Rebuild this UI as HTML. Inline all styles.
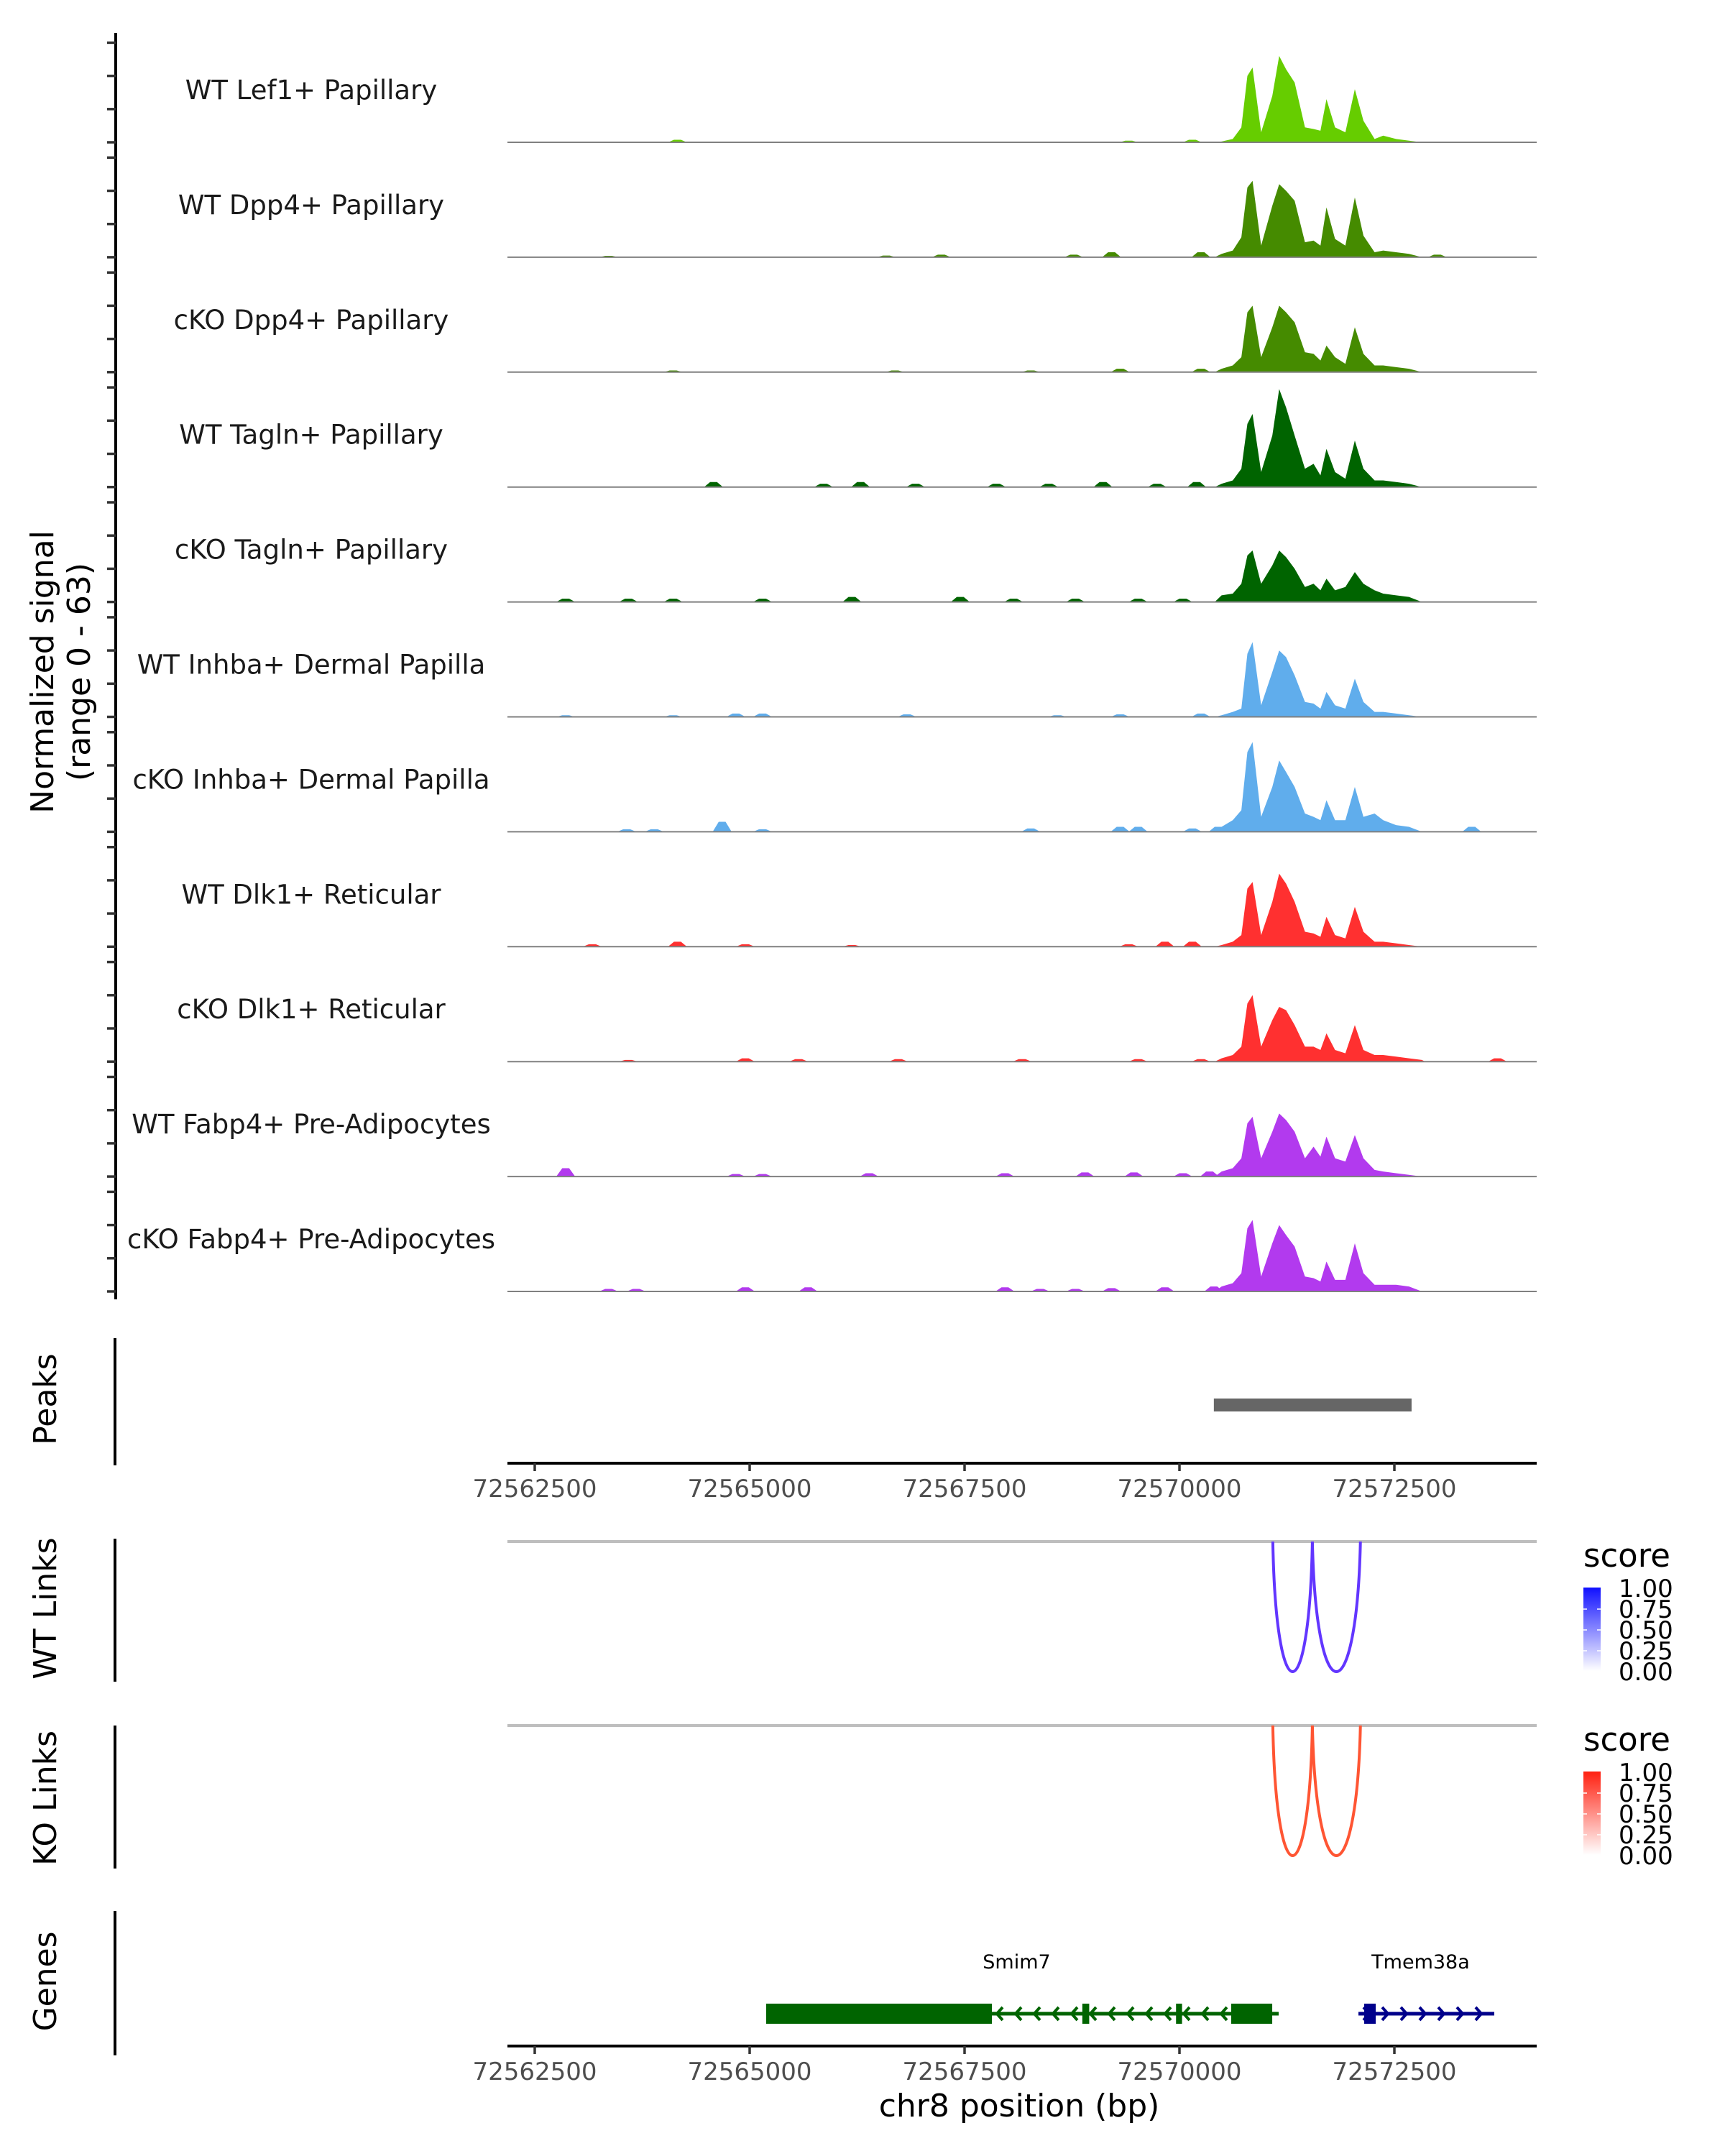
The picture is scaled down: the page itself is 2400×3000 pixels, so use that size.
<!DOCTYPE html>
<html><head><meta charset="utf-8">
<style>
html,body{margin:0;padding:0;background:#fff;}
svg{display:block;font-family:"DejaVu Sans","Liberation Sans",sans-serif;}
</style></head>
<body>
<svg id="chart" width="2400" height="3000" viewBox="0 0 2400 3000" xmlns="http://www.w3.org/2000/svg"></svg>
<script>
// ---------- data ----------
const trackNames = ["WT Lef1+ Papillary","WT Dpp4+ Papillary","cKO Dpp4+ Papillary","WT Tagln+ Papillary","cKO Tagln+ Papillary","WT Inhba+ Dermal Papilla","cKO Inhba+ Dermal Papilla","WT Dlk1+ Reticular","cKO Dlk1+ Reticular","WT Fabp4+ Pre-Adipocytes","cKO Fabp4+ Pre-Adipocytes"];
const trackColors = ["#66CD00","#458B00","#458B00","#006400","#006400","#60ADEC","#60ADEC","#FF3030","#FF3030","#B23AEE","#B23AEE"];
// positions (bp) of main-cluster samples
const clusterPos = [72570490,72570620,72570720,72570790,72570850,72570950,72571080,72571160,72571240,72571340,72571460,72571560,72571640,72571710,72571810,72571930,72572040,72572140,72572270,72572370,72572520,72572670,72572820];
const sig1  = [0.5,2,9,40,45,6,28,52,44,36,9,8,7,26,9,6,32,13,2,4,2,1,0];
const sig2  = [2,4,12,42,46,7,31,44,40,34,9,10,7,30,11,7,36,13,3,4,3,2,0];
const sig3  = [2,4,9,36,40,9,27,40,36,30,12,11,7,16,9,5,27,11,4,4,3,2,0];
const sig4  = [2,4,11,38,44,9,31,59,48,31,11,14,7,23,9,5,28,11,4,4,3,2,0];
const sig5  = [4,5,11,28,31,11,22,31,27,20,9,11,7,14,7,9,18,11,7,5,4,3,0];
const sig6  = [1,3,5,38,45,7,27,40,36,25,9,8,5,15,7,5,23,9,3,3,2,1,0];
const sig7  = [3,7,13,48,54,9,27,43,36,27,11,9,7,19,7,7,27,9,11,7,4,3,0];
const sig8  = [1,3,7,35,39,7,27,44,38,27,9,8,6,18,7,5,24,9,3,3,2,1,0];
const sig9  = [2,4,9,35,40,9,25,33,31,22,9,9,7,17,7,5,22,7,4,4,3,2,1];
const sig10 = [3,5,11,32,36,11,27,38,34,27,11,18,12,24,11,9,25,11,4,3,2,1,0];
const sig11 = [3,5,11,38,43,9,29,40,34,27,9,8,6,18,7,7,29,11,4,4,4,3,0];
const signals = [sig1,sig2,sig3,sig4,sig5,sig6,sig7,sig8,sig9,sig10,sig11];
// small background bumps: positions (bp) and heights
const bgPos1 = [72564160,72569410,72570150]; const bgH1 = [1.5,1,1.5];
const bgPos2 = [72563360,72566590,72567230,72568770,72569210,72570250,72573000]; const bgH2 = [0.8,1,1.5,1.5,3,3,1.5];
const bgPos3 = [72564110,72566690,72568270,72569310,72570250]; const bgH3 = [1,1,1,2,2];
const bgPos4 = [72564580,72565860,72566290,72566930,72567870,72568480,72569110,72569740,72570200]; const bgH4 = [3,2,3,2,2,2,3,2,3];
const bgPos5 = [72562860,72563590,72564110,72565150,72566190,72567450,72568070,72568790,72569520,72570040]; const bgH5 = [2,2,2,2,3,3,2,2,2,2];
const bgPos6 = [72562860,72564110,72564840,72565150,72566830,72568580,72569310,72570250]; const bgH6 = [1,1,2,2,1.5,1,1.5,2];
const bgPos7 = [72563570,72563890,72564680,72565150,72568270,72569310,72569520,72570150,72570450,72573400]; const bgH7 = [1.5,1.5,6,1.5,2,3,3,2,3,3];
const bgPos8 = [72563170,72564160,72564950,72566190,72569410,72569830,72570150]; const bgH8 = [1.5,3,1.5,1,1.5,3,3];
const bgPos9 = [72563590,72564950,72565570,72566730,72568170,72569520,72570250,72573700]; const bgH9 = [1,2,1.5,1.5,1.5,1.5,1.5,2];
const bgPos10 = [72562860,72564840,72565150,72566390,72567970,72568900,72569470,72570040,72570350]; const bgH10 = [5,1.5,1.5,2,2,2.5,2.5,2,3];
const bgPos11 = [72563360,72563680,72564950,72565680,72567970,72568380,72568790,72569210,72569830,72570400]; const bgH11 = [1.5,1.5,2.5,2.5,2.5,1.5,1.5,2,2.5,3];
const bgPositions = [bgPos1,bgPos2,bgPos3,bgPos4,bgPos5,bgPos6,bgPos7,bgPos8,bgPos9,bgPos10,bgPos11];
const bgHeights = [bgH1,bgH2,bgH3,bgH4,bgH5,bgH6,bgH7,bgH8,bgH9,bgH10,bgH11];
const yTickVals = [0,20,40,60];
const xTicks = [72562500,72565000,72567500,72570000,72572500];
const peakStart = [72570400]; const peakEnd = [72572700];
const linkStart = [72571086,72571546]; const linkEnd = [72571546,72572105];
const wtScores = [0.85,0.85]; const koScores = [0.85,0.85];
const legendLabels = ["1.00","0.75","0.50","0.25","0.00"];
const smim7Exons = [[72565192,72567818],[72568870,72568950],[72569960,72570030],[72570602,72571079]];
const smim7Span = [72565192,72571154];
const tmemExons = [[72572149,72572283]];
const tmemSpan = [72572082,72573662];

// ---------- scales ----------
const X0 = 706, X1 = 2138;
function xs(bp){ return 1641 + (bp - 72570000) * 0.1196; }
const base0 = 198, trackStep = 159.9, unit = 2.31;
function baseY(i){ return base0 + i * trackStep; }
function ys(i, v){ return baseY(i) - v * unit; }

const svg = document.getElementById('chart');
const NS = 'http://www.w3.org/2000/svg';
function mk(tag, attrs, parent){ const e = document.createElementNS(NS, tag); for (const k in attrs) e.setAttribute(k, attrs[k]); (parent||svg).appendChild(e); return e; }
function txt(s, attrs, parent){ const e = mk('text', attrs, parent); e.textContent = s; return e; }

// ---------- tracks ----------
const lax = mk('line',{x1:161,y1:46,x2:161,y2:1808,stroke:'#000','stroke-width':4});


for (let i = 0; i < trackNames.length; i++){
  const g = mk('g',{});
  
  
  yTickVals.forEach(v=>{
    const t = mk('line',{x1:149,x2:161,y1:ys(i,v),y2:ys(i,v),stroke:'#333','stroke-width':3.5},g);
    
    
  });
  const lab = txt(trackNames[i],{x:433,y:baseY(i)-60,'font-size':37,'text-anchor':'middle',fill:'#1a1a1a'},g);
  
  
  const bp = bgPositions[i], bh = bgHeights[i];
  for (let k = 0; k < bp.length; k++){
    const p = mk('polygon',{points:`${xs(bp[k]-110)},${baseY(i)} ${xs(bp[k]-40)},${ys(i,bh[k])} ${xs(bp[k]+40)},${ys(i,bh[k])} ${xs(bp[k]+110)},${baseY(i)}`,fill:trackColors[i]},g);
    
    
  }
  const s = signals[i];
  let pts = `${xs(clusterPos[0]-80)},${baseY(i)} `;
  for (let k = 0; k < clusterPos.length; k++) pts += `${xs(clusterPos[k])},${ys(i,s[k])} `;
  pts += `${xs(clusterPos[clusterPos.length-1]+40)},${baseY(i)}`;
  const area = mk('polygon',{points:pts,fill:trackColors[i]},g);
  
  
  const bl = mk('line',{x1:X0,x2:X1,y1:baseY(i),y2:baseY(i),stroke:'#808080','stroke-width':2},g);
  
  
}
const yt = txt('',{transform:'translate(88,935) rotate(-90)','font-size':44,'text-anchor':'middle',fill:'#000'});


const t1 = mk('tspan',{x:0,y:-14},yt); t1.textContent='Normalized signal';
const t2 = mk('tspan',{x:0,y:37},yt); t2.textContent='(range 0 - 63)';

// ---------- side panels ----------
function sidePanel(name, label, y1, y2, cy){
  const l = mk('line',{x1:160,x2:160,y1:y1,y2:y2,stroke:'#000','stroke-width':4});
  
  
  const t = txt(label,{transform:`translate(78,${cy}) rotate(-90)`,'font-size':44,'text-anchor':'middle',fill:'#000'});
  
  
}
sidePanel('peaks','Peaks',1862,2039,1947);
sidePanel('wt-links','WT Links',2141,2340,2238);
sidePanel('ko-links','KO Links',2401,2600,2502);
sidePanel('genes','Genes',2659,2860,2757);

for (let k = 0; k < peakStart.length; k++){
  const r = mk('rect',{x:xs(peakStart[k]),y:1946,width:xs(peakEnd[k])-xs(peakStart[k]),height:18,fill:'#666'});
  
  
}

function xAxis(y, name){
  const g = mk('g',{});
  
  
  mk('line',{x1:X0,x2:X1,y1:y,y2:y,stroke:'#000','stroke-width':4},g);
  xTicks.forEach(v=>{
    mk('line',{x1:xs(v),x2:xs(v),y1:y,y2:y+11,stroke:'#333','stroke-width':3.5},g);
    const t = txt(String(v),{x:xs(v),y:y+47,'font-size':34,'text-anchor':'middle',fill:'#4d4d4d'},g);
    
    
  });
}
xAxis(2036,'peaks-x-axis');
xAxis(2847,'genes-x-axis');
const xt = txt('chr8 position (bp)',{x:1418,y:2945,'font-size':44,'text-anchor':'middle',fill:'#000'});



// ---------- links ----------
function links(top, depth, scores, hueColor, name){
  const g = mk('g',{});
  
  
  mk('line',{x1:X0,x2:X1,y1:top,y2:top,stroke:'#bebebe','stroke-width':4},g);
  for (let k = 0; k < linkStart.length; k++){
    const a = xs(linkStart[k]), b = xs(linkEnd[k]);
    const bot = top + depth * scores[k] / 0.85;
    const c = (bot - 0.25*top)/0.75;
    const p = mk('path',{d:`M${a},${top} C${a+(b-a)*0.08},${c} ${b-(b-a)*0.08},${c} ${b},${top}`,fill:'none',stroke:hueColor,'stroke-width':4},g);
    
    
  }
}
links(2145,181,wtScores,'#6236FF','wt-links-track');
links(2401,181,koScores,'#FF5533','ko-links-track');

// ---------- legends ----------
const defs = mk('defs',{});
const gb = mk('linearGradient',{id:'gb',x1:0,y1:1,x2:0,y2:0},defs);
mk('stop',{offset:0,'stop-color':'#ffffff'},gb); mk('stop',{offset:1,'stop-color':'#1010FF'},gb);
const gr = mk('linearGradient',{id:'gr',x1:0,y1:1,x2:0,y2:0},defs);
mk('stop',{offset:0,'stop-color':'#ffffff'},gr); mk('stop',{offset:1,'stop-color':'#FF2010'},gr);
function legend(top, grad, name){
  const g = mk('g',{});
  
  
  txt('score',{x:2203,y:top+35,'font-size':45,fill:'#000'},g);
  mk('rect',{x:2203,y:top+64,width:24,height:116,fill:`url(#${grad})`},g);
  legendLabels.forEach((s,k)=>{
    const yy = top+65 + k*29;
    if (k>0 && k<4){ mk('line',{x1:2203,x2:2208,y1:yy,y2:yy,stroke:'#fff','stroke-width':1.5},g); mk('line',{x1:2222,x2:2227,y1:yy,y2:yy,stroke:'#fff','stroke-width':1.5},g); }
    txt(s,{x:2252,y:yy+12,'font-size':34,fill:'#000'},g);
  });
}
legend(2145,'gb','wt-score-legend');
legend(2401,'gr','ko-score-legend');

// ---------- genes ----------
function gene(span, exons, color, dir, label, name){
  const g = mk('g',{});
  
  
  const y = 2802;
  mk('line',{x1:xs(span[0]),x2:xs(span[1]),y1:y,y2:y,stroke:color,'stroke-width':5},g);
  for (let x = xs(span[0])+12; x < xs(span[1])-4; x += 26){
    const d = dir < 0 ? `M${x+5},${y-9} L${x-3},${y} L${x+5},${y+9}` : `M${x-5},${y-9} L${x+3},${y} L${x-5},${y+9}`;
    mk('path',{d:d,fill:'none',stroke:color,'stroke-width':4},g);
  }
  exons.forEach(e=>{
    const r = mk('rect',{x:xs(e[0]),y:y-14,width:Math.max(8,xs(e[1])-xs(e[0])),height:28,fill:color},g);
    
    
  });
  const t = txt(label,{x:(xs(span[0])+xs(span[1]))/2-8,y:2739,'font-size':27,'text-anchor':'middle',fill:'#000'},g);
  
  
}
gene(smim7Span,smim7Exons,'#006400',-1,'Smim7','gene-smim7');
gene(tmemSpan,tmemExons,'#00008B',1,'Tmem38a','gene-tmem38a');
</script>
</body></html>
